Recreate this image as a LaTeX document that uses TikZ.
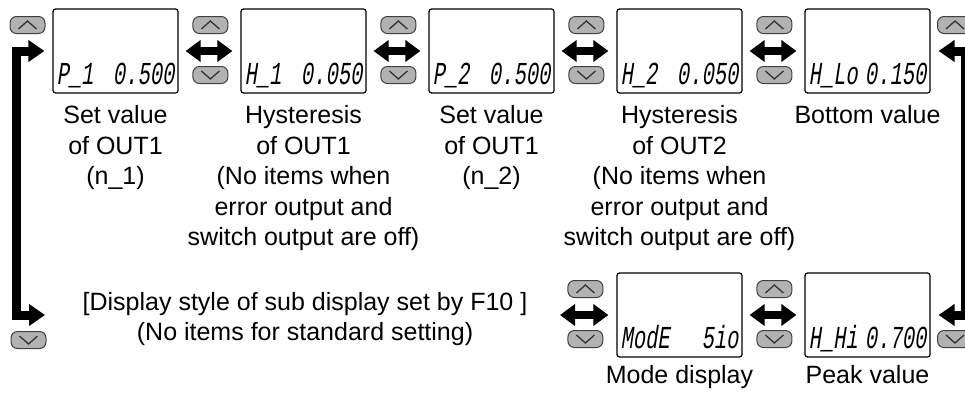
\documentclass[tikz,border=0pt]{standalone}
\usepackage{fontspec}
\setmainfont{Liberation Sans}
\newfontfamily\segfont[FakeStretch=0.64,FakeSlant=0.15]{Liberation Mono}
\usetikzlibrary{arrows.meta,calc}
\begin{document}
\begin{tikzpicture}[x=1pt,y=-1pt,
  lcd/.style={draw=black,line width=1.2pt,rounded corners=2.5pt,minimum width=125pt,minimum height=84pt,inner sep=0pt},
  btn/.style={draw=black!75,fill=black!30,line width=1pt,rounded corners=6.5pt,minimum width=35pt,minimum height=17pt,inner sep=0pt},
  chev/.style={draw=black!80,line width=1.3pt,line join=miter},
  dbl/.style={line width=8pt,{Triangle[length=15pt,width=21pt]}-{Triangle[length=15pt,width=21pt]}},
  looparrow/.style={line width=9pt,line join=miter,{Triangle[length=16pt,width=21pt]}-{Triangle[length=16pt,width=21pt]}},
  lbl/.style={anchor=north,align=center,inner sep=0pt,font=\fontsize{25}{30.5}\selectfont},
  seg/.style={inner sep=0pt,font=\segfont\fontsize{32}{32}\selectfont}]
\useasboundingbox (0,0) rectangle (965,394);
\clip (0,0) rectangle (965,394);

\newcommand\upbtn[2]{\node[btn] (#1) at (#2) {};
  \draw[chev] ($(#1.center)+(-9,4)$) -- ($(#1.center)+(0,-4)$) -- ($(#1.center)+(9,4)$);}
\newcommand\dnbtn[2]{\node[btn] (#1) at (#2) {};
  \draw[chev] ($(#1.center)+(-9,-4)$) -- ($(#1.center)+(0,4)$) -- ($(#1.center)+(9,-4)$);}

% displays
\node[lcd] (b1) at (115.5,51) {};
\node[lcd] (b2) at (303.5,51) {};
\node[lcd] (b3) at (491.5,51) {};
\node[lcd] (b4) at (679.5,51) {};
\node[lcd] (b5) at (867.5,51) {};
\node[lcd] (bm) at (679.5,315) {};
\node[lcd] (bp) at (867.5,315) {};

% display contents
\node[seg,anchor=base west] (d1l) at ($(b1.south west)+(4,-9)$) {P\_1};
\node[seg,anchor=base east] (d1r) at ($(b1.south east)+(-4,-9)$) {0.500};
\node[seg,anchor=base west] (d2l) at ($(b2.south west)+(4,-9)$) {H\_1};
\node[seg,anchor=base east] (d2r) at ($(b2.south east)+(-4,-9)$) {0.050};
\node[seg,anchor=base west] (d3l) at ($(b3.south west)+(4,-9)$) {P\_2};
\node[seg,anchor=base east] (d3r) at ($(b3.south east)+(-4,-9)$) {0.500};
\node[seg,anchor=base west] (d4l) at ($(b4.south west)+(4,-9)$) {H\_2};
\node[seg,anchor=base east] (d4r) at ($(b4.south east)+(-4,-9)$) {0.050};
\node[seg,anchor=base west] (d5l) at ($(b5.south west)+(4,-9)$) {H\_Lo};
\node[seg,anchor=base east] (d5r) at ($(b5.south east)+(-4,-9)$) {0.150};
\node[seg,anchor=base west] (dml) at ($(bm.south west)+(4,-9)$) {ModE};
\node[seg,anchor=base east] (dmr) at ($(bm.south east)+(-4,-9)$) {5io};
\node[seg,anchor=base west] (dpl) at ($(bp.south west)+(4,-9)$) {H\_Hi};
\node[seg,anchor=base east] (dpr) at ($(bp.south east)+(-4,-9)$) {0.700};

% labels
\node[lbl] (l1) at ($(b1.south)+(0,12)$) {Set value\\of OUT1\\(n\_1)};
\node[lbl] (l2) at ($(b2.south)+(0,12)$) {Hysteresis\\of OUT1\\(No items when\\error output and\\switch output are off)};
\node[lbl] (l3) at ($(b3.south)+(0,12)$) {Set value\\of OUT1\\(n\_2)};
\node[lbl] (l4) at ($(b4.south)+(0,12)$) {Hysteresis\\of OUT2\\(No items when\\error output and\\switch output are off)};
\node[lbl] (l5) at ($(b5.south)+(0,12)$) {Bottom value};
\node[lbl] (lm) at ($(bm.south)+(0,8)$) {Mode display};
\node[lbl] (lp) at ($(bp.south)+(0,8)$) {Peak value};
\node[lbl] (note) at (305,292) {[Display style of sub display set by F10 ]\\(No items for standard setting)};

% double arrows
\draw[dbl] ($(b1.east)+(7,0)$) -- ($(b2.west)+(-8,0)$);
\draw[dbl] ($(b2.east)+(7,0)$) -- ($(b3.west)+(-8,0)$);
\draw[dbl] ($(b3.east)+(7,0)$) -- ($(b4.west)+(-8,0)$);
\draw[dbl] ($(b4.east)+(7,0)$) -- ($(b5.west)+(-8,0)$);
\coordinate (ms) at (560,315);
\draw[dbl] (ms) -- ($(bm.west)+(-8,0)$);
\draw[dbl] ($(bm.east)+(7,0)$) -- ($(bp.west)+(-8,0)$);

% loops
\coordinate (lt) at ($(b1.west)+(-8,0)$);
\coordinate (lb) at (45,315);
\draw[looparrow] (lb) -- (16.5,315) -- (16.5,51) -- (lt);
\coordinate (rt) at ($(b5.east)+(8,0)$);
\coordinate (rb) at ($(bp.east)+(8,0)$);
\draw[looparrow] (rt) -- (965,51) -- (965,315) -- (rb);

% buttons
\upbtn{u0}{27.5,25}
\dnbtn{d0}{28.5,340}
\upbtn{u1}{$(b2.west)+(-30,-26)$}
\dnbtn{d1}{$(b2.west)+(-30,24)$}
\upbtn{u2}{$(b3.west)+(-30,-26)$}
\dnbtn{d2}{$(b3.west)+(-30,24)$}
\upbtn{u3}{$(b4.west)+(-30,-26)$}
\dnbtn{d3}{$(b4.west)+(-30,24)$}
\upbtn{u4}{$(b5.west)+(-30,-26)$}
\dnbtn{d4}{$(b5.west)+(-30,24)$}
\upbtn{u5}{955,25}
\upbtn{um}{$(bm.west)+(-31,-26)$}
\dnbtn{dm}{$(bm.west)+(-31,24)$}
\upbtn{up}{$(bp.west)+(-30,-26)$}
\dnbtn{dp}{$(bp.west)+(-30,24)$}
\dnbtn{d5}{955,339}
\end{tikzpicture}
\end{document}
